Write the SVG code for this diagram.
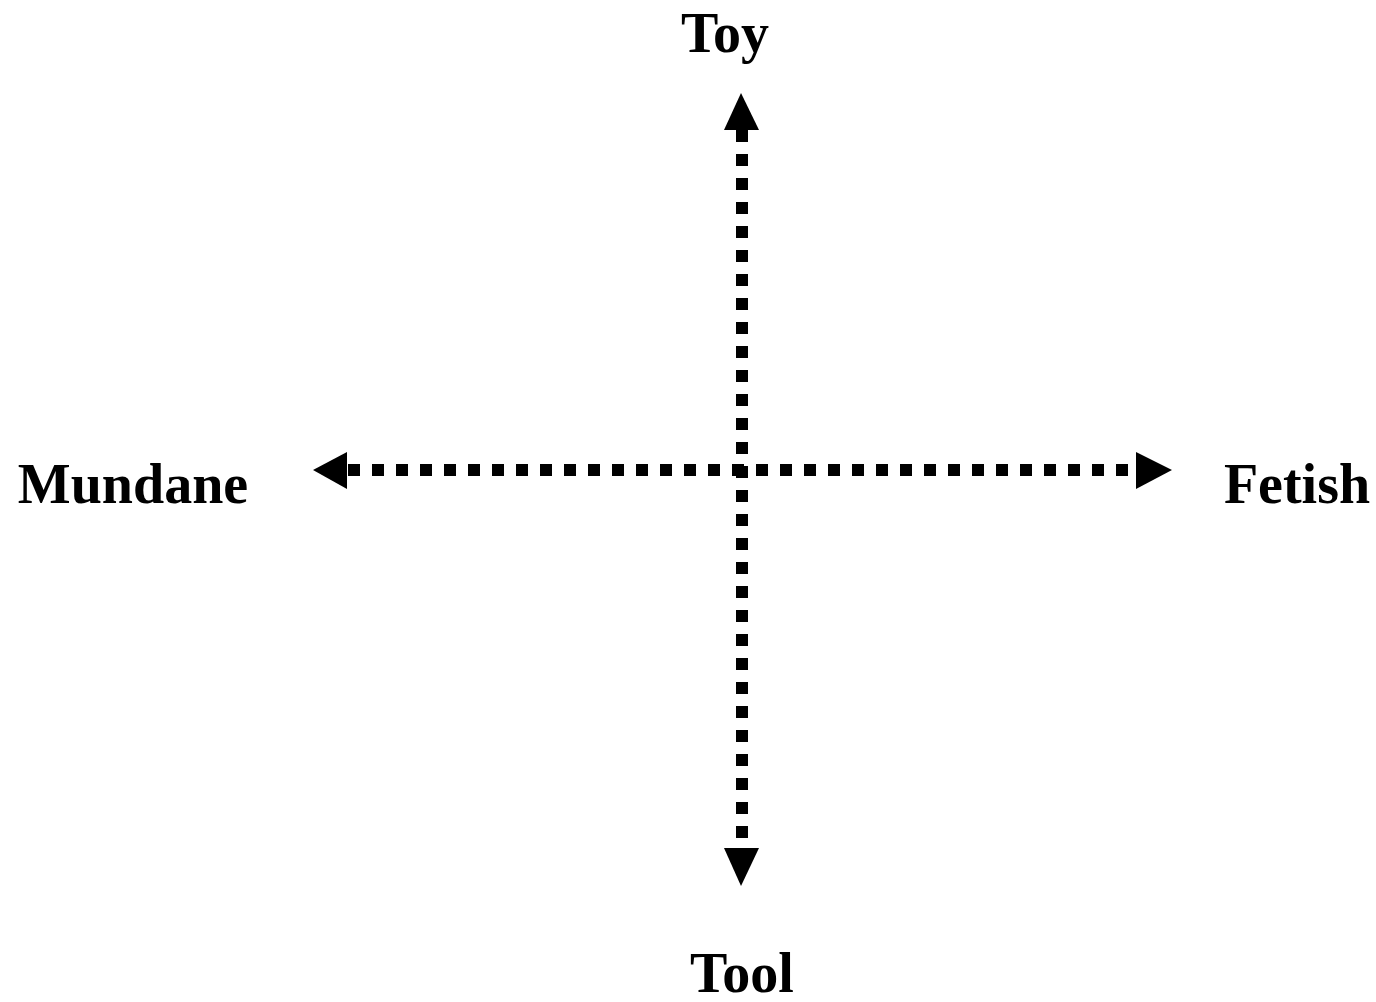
<svg xmlns="http://www.w3.org/2000/svg" width="1376" height="1002" viewBox="0 0 1376 1002">
<style>
.lbl{font-family:"Liberation Serif","Times New Roman",serif;font-weight:bold;font-size:56px;fill:#000;text-anchor:middle}
.ax{stroke:#000;stroke-width:12;stroke-dasharray:12 12;fill:none}
.hd{fill:#000}
</style>
<rect width="1376" height="1002" fill="#fff"/>
<g id="connectors">
<line class="ax" x1="742" y1="130" x2="742" y2="848"/>
<line class="ax" x1="348" y1="470" x2="1136" y2="470"/>
<polygon class="hd" points="741,93 759,130 724,130"/>
<polygon class="hd" points="741,886 724,848 759,848"/>
<polygon class="hd" points="313,470 347,452 347,489"/>
<polygon class="hd" points="1172,470 1136,452 1136,489"/>
</g>
<g id="toy"><text class="lbl" x="725" y="52">Toy</text></g>
<g id="tool"><text class="lbl" x="742" y="992">Tool</text></g>
<g id="mundane"><text class="lbl" x="133" y="503">Mundane</text></g>
<g id="fetish"><text class="lbl" x="1297" y="503">Fetish</text></g>
</svg>
